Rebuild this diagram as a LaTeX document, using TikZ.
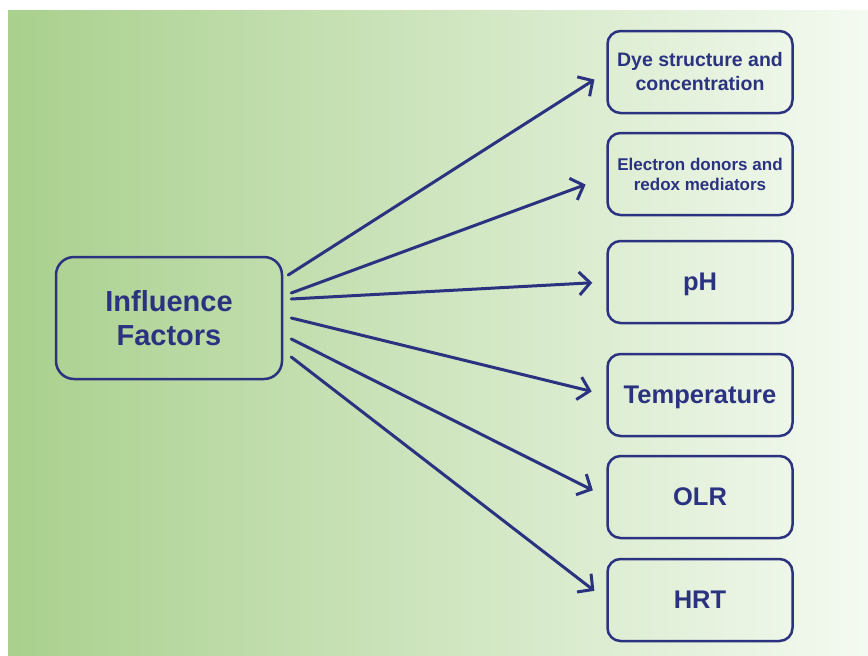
\documentclass[tikz,border=0pt]{standalone}
\usepackage{fontspec}
\setmainfont{Liberation Sans}
\usetikzlibrary{arrows.meta}
\definecolor{navy}{HTML}{2B3381}
\definecolor{bgleft}{HTML}{A9D08D}
\definecolor{bgmid}{HTML}{D9EECE}
\definecolor{bgright}{HTML}{F4FAF1}

\tikzset{
  factor/.style={draw=navy, line width=2.5pt, rounded corners=13pt,
                 minimum width=185pt, minimum height=82pt, inner sep=0pt,
                 align=center, text=navy, font=\bfseries},
  single/.style={factor, text depth=0pt, font=\bfseries\fontsize{25.5}{30}\selectfont},
  link/.style={draw=navy, line width=3pt, line cap=round,
               -{Straight Barb[length=11pt,width=23pt,line width=3pt]}}
}

\begin{document}
\begin{tikzpicture}[x=1pt, y=-1pt]
  \useasboundingbox (0,0) rectangle (868,656);
  \shade[left color=bgleft, middle color=bgmid, right color=bgright] (8,10) rectangle (868,656);

  \node[factor, minimum width=226pt, minimum height=122pt, rounded corners=18pt,
        font=\bfseries\fontsize{29}{34}\selectfont] (inf) at (169,318) {Influence\\Factors};

  \node[factor, font=\bfseries\fontsize{19.5}{24}\selectfont] (dye) at (700,72) {Dye structure and\\concentration};
  \node[factor, font=\bfseries\fontsize{17}{20}\selectfont] (donor) at (700,174) {Electron donors and\\redox mediators};
  \node[single] (ph) at (700,282) {pH};
  \node[single] (temp) at (700,395) {Temperature};
  \node[single] (olr) at (700,497) {OLR};
  \node[single] (hrt) at (700,600) {HRT};

  % arrows out of the influence box
  \draw[link, shorten >=14pt] ([xshift=5pt,yshift=43pt]inf.east) -- (dye.west);
  \draw[link, shorten >=22pt] ([xshift=8pt,yshift=25pt]inf.east) -- ([yshift=-3pt]donor.west);
  \draw[link, shorten >=14pt] ([xshift=8pt,yshift=19pt]inf.east) -- (ph.west);
  \draw[link, shorten >=15pt] ([xshift=8pt,yshift=0pt]inf.east) -- (temp.west);
  \draw[link, shorten >=15pt] ([xshift=8pt,yshift=-21pt]inf.east) -- (olr.west);
  \draw[link, shorten >=15pt] ([xshift=8pt,yshift=-39pt]inf.east) -- (hrt.west);
\end{tikzpicture}
\end{document}
